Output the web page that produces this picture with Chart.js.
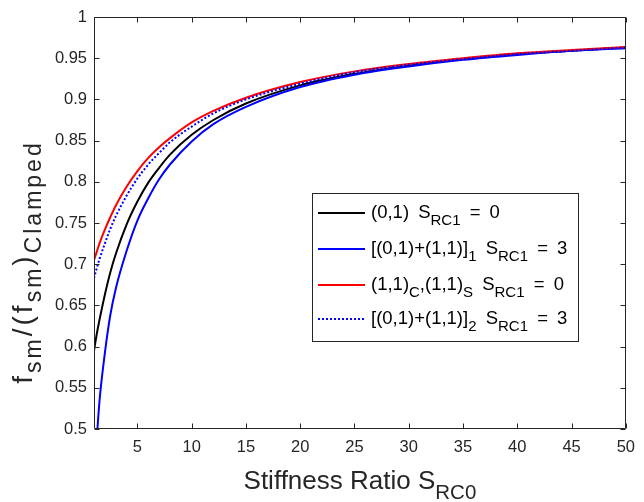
<!DOCTYPE html>
<html>
<head>
<meta charset="utf-8">
<script src="https://cdn.jsdelivr.net/npm/chart.js@4.4.1/dist/chart.umd.min.js"></script>
<style>
html,body{margin:0;padding:0;background:#fff;}
#wrap{width:644px;height:502px;position:relative;}
</style>
</head>
<body>
<div id="wrap"><canvas id="c" width="644" height="502"></canvas></div>
<script>
// ---- data ----
const stiffnessRatio = [1, 1.25, 1.5, 2, 2.5, 3, 4, 5, 6, 7, 8, 10, 12, 15, 20, 25, 30, 35, 40, 45, 50];
const mode01_S0 = [0.595, 0.615, 0.632, 0.663, 0.690, 0.712, 0.748, 0.776, 0.799, 0.817, 0.833, 0.857, 0.875, 0.895, 0.917, 0.931, 0.941, 0.949, 0.955, 0.959, 0.963];
const mode01p11_1_S3 = [0.45, 0.488, 0.533, 0.592, 0.638, 0.670, 0.716, 0.753, 0.780, 0.803, 0.821, 0.849, 0.870, 0.891, 0.915, 0.930, 0.940, 0.948, 0.954, 0.959, 0.962];
const mode11_S0 = [0.705, 0.715, 0.725, 0.742, 0.757, 0.771, 0.794, 0.813, 0.829, 0.842, 0.853, 0.872, 0.886, 0.902, 0.921, 0.934, 0.943, 0.950, 0.956, 0.960, 0.9635];
const mode01p11_2_S3 = [0.683, 0.695, 0.706, 0.725, 0.743, 0.758, 0.783, 0.804, 0.821, 0.835, 0.848, 0.867, 0.883, 0.900, 0.919, 0.933, 0.942, 0.949, 0.955, 0.959, 0.963];
const xTickValues = [5, 10, 15, 20, 25, 30, 35, 40, 45, 50];
const yTickValues = [0.5, 0.55, 0.6, 0.65, 0.7, 0.75, 0.8, 0.85, 0.9, 0.95, 1];
const yTickLabels = ['0.5', '0.55', '0.6', '0.65', '0.7', '0.75', '0.8', '0.85', '0.9', '0.95', '1'];
// legend entries: [text, isSubscript] pieces
const legendEntries = [
  [['(0,1) S', 0], ['RC1', 1], [' = 0', 0]],
  [['[(0,1)+(1,1)]', 0], ['1', 1], [' S', 0], ['RC1', 1], [' = 3', 0]],
  [['(1,1)', 0], ['C', 1], [',(1,1)', 0], ['S', 1], [' S', 0], ['RC1', 1], [' = 0', 0]],
  [['[(0,1)+(1,1)]', 0], ['2', 1], [' S', 0], ['RC1', 1], [' = 3', 0]]
];
const xTitle = [['Stiffness Ratio S', 0], ['RC0', 1]];
const yTitle = [['f', 0], ['sm', 1], ['/(f', 0], ['sm', 1], [')', 0], ['Clamped', 1]];

const FONT = '"Liberation Sans", Arial, Helvetica, sans-serif';
const AX = '#262626';

function pts(xs, ys){ return xs.map((x,i)=>({x:x, y:ys[i]})); }

function setSpacing(ctx, ls, ws){
  if ('letterSpacing' in ctx) ctx.letterSpacing = ls + 'px';
  if ('wordSpacing' in ctx) ctx.wordSpacing = ws + 'px';
}
function richWidth(ctx, parts, m, s){
  let w = 0;
  parts.forEach(p=>{ ctx.font = (p[1]? s : m) + 'px ' + FONT; w += ctx.measureText(p[0]).width; });
  return w;
}
function drawRich(ctx, parts, x, y, m, s, shift){
  parts.forEach(p=>{
    ctx.font = (p[1]? s : m) + 'px ' + FONT;
    ctx.fillText(p[0], x, p[1] ? y + shift : y);
    x += ctx.measureText(p[0]).width;
  });
}

const frame = {
  id: 'frame',
  afterDatasetsDraw(chart){
    const ctx = chart.ctx, a = chart.chartArea;
    const xs = chart.scales.x, ys = chart.scales.y;
    ctx.save();
    ctx.strokeStyle = AX; ctx.lineWidth = 1;
    const L = Math.round(a.left)+0.5, R = Math.round(a.right)-0.5, T = Math.round(a.top)+0.5, B = Math.round(a.bottom)-0.5;
    ctx.beginPath();
    ctx.rect(L, T, R-L, B-T);
    const tk = 5;
    xTickValues.forEach(v=>{
      const px = Math.round(xs.getPixelForValue(v))+0.5;
      ctx.moveTo(px, B); ctx.lineTo(px, B-tk);
      ctx.moveTo(px, T); ctx.lineTo(px, T+tk);
    });
    yTickValues.forEach(v=>{
      const py = Math.round(ys.getPixelForValue(v))+0.5;
      ctx.moveTo(L, py); ctx.lineTo(L+tk, py);
      ctx.moveTo(R, py); ctx.lineTo(R-tk, py);
    });
    ctx.stroke();

    // axis titles
    ctx.fillStyle = AX;
    ctx.textBaseline = 'alphabetic';
    setSpacing(ctx, 0, 0);
    const xm = 26, xsub = 20.5;
    const xw = richWidth(ctx, xTitle, xm, xsub);
    drawRich(ctx, xTitle, (a.left + a.right)/2 - xw/2, 489, xm, xsub, 10);

    const ym = 28, ysub = 23;
    setSpacing(ctx, 3, 0);
    const yw = richWidth(ctx, yTitle, ym, ysub);
    ctx.save();
    ctx.translate(32, 262 + yw/2);
    ctx.rotate(-Math.PI/2);
    drawRich(ctx, yTitle, 0, 0, ym, ysub, 9);
    ctx.restore();
    setSpacing(ctx, 0, 0);

    // legend
    const lx = 312.5, ly = 193.5, lw = 266, lh = 148;
    ctx.fillStyle = '#fff';
    ctx.fillRect(lx, ly, lw, lh);
    ctx.strokeStyle = AX; ctx.lineWidth = 1;
    ctx.strokeRect(lx, ly, lw, lh);
    const rowsY = [213, 249, 285, 319];
    chart.data.datasets.forEach((ds, i)=>{
      const yy = rowsY[i];
      ctx.save();
      ctx.strokeStyle = ds.borderColor; ctx.lineWidth = ds.borderWidth;
      ctx.setLineDash(ds.borderDash || []);
      ctx.beginPath(); ctx.moveTo(318, yy); ctx.lineTo(365, yy); ctx.stroke();
      ctx.restore();
      ctx.fillStyle = '#000';
      ctx.textBaseline = 'middle';
      setSpacing(ctx, 0, 4);
      drawRich(ctx, legendEntries[i], 371, yy, 18.5, 15, 8);
      setSpacing(ctx, 0, 0);
    });
    ctx.restore();
  }
};

new Chart(document.getElementById('c'), {
  type: 'line',
  data: {
    datasets: [
      {data: pts(stiffnessRatio, mode01_S0), borderColor: '#000000', borderWidth: 2, order: 4},
      {data: pts(stiffnessRatio, mode01p11_1_S3), borderColor: '#0000ff', borderWidth: 2, order: 3},
      {data: pts(stiffnessRatio, mode11_S0), borderColor: '#ff0000', borderWidth: 2, order: 2},
      {data: pts(stiffnessRatio, mode01p11_2_S3), borderColor: '#0000ff', borderWidth: 2, borderDash: [2, 2], order: 1}
    ]
  },
  options: {
    responsive: false,
    animation: false,
    devicePixelRatio: 1,
    events: [],
    clip: 0,
    elements: { point: { radius: 0 }, line: { cubicInterpolationMode: 'monotone', fill: false, borderCapStyle: 'butt' } },
    layout: { padding: { left: 0, top: 17, right: 12, bottom: 0 } },
    plugins: { legend: { display: false }, tooltip: { enabled: false }, title: { display: false } },
    scales: {
      x: {
        type: 'linear', min: 1, max: 50,
        grid: { display: false, drawTicks: false }, border: { display: false },
        afterBuildTicks: s => { s.ticks = xTickValues.map(v => ({value: v})); },
        afterFit: s => { s.height = 73; },
        ticks: { color: AX, font: { family: FONT, size: 16.5 }, padding: 9, maxRotation: 0, autoSkip: false, callback: v => String(v) }
      },
      y: {
        type: 'linear', min: 0.5, max: 1,
        grid: { display: false, drawTicks: false }, border: { display: false },
        afterBuildTicks: s => { s.ticks = yTickValues.map(v => ({value: v})); },
        afterFit: s => { s.width = 94; },
        ticks: { color: AX, font: { family: FONT, size: 16.5 }, padding: 7, autoSkip: false,
          callback: (v, i) => yTickLabels[i] }
      }
    }
  },
  plugins: [frame]
});
</script>
</body>
</html>
